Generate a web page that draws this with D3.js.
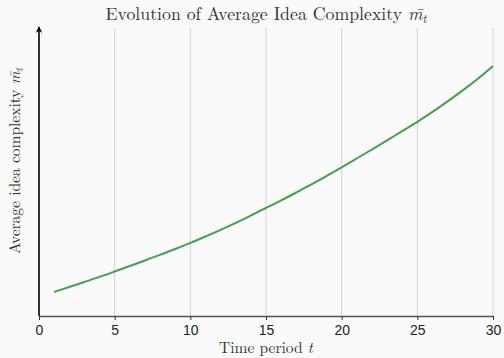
<!DOCTYPE html>
<html>
<head>
<meta charset="utf-8">
<script src="https://cdn.jsdelivr.net/npm/d3@7"></script>
<style>
  html, body { margin: 0; padding: 0; background: #fafafa; }
  svg { display: block; }
</style>
</head>
<body>
<div class="chart"></div>
<script>
// Time periods
const periods = d3.range(1, 31);

// Average idea complexity per period
const complexity = [
  0.24, 0.29, 0.34, 0.39, 0.445, 0.50, 0.555, 0.61, 0.67, 0.73,
  0.795, 0.86, 0.93, 1.005, 1.08, 1.155, 1.235, 1.315, 1.40, 1.485,
  1.575, 1.665, 1.755, 1.85, 1.94, 2.04, 2.145, 2.255, 2.37, 2.50
];

// X tick labels
const xTicks = [0, 5, 10, 15, 20, 25, 30];

const width = 504, height = 358;
const margin = { top: 28, right: 11, bottom: 42, left: 39 };
const xMax = width - margin.left - margin.right;
const yMax = height - margin.top - margin.bottom;

const data = periods.map((t, i) => ({ t: t, m: complexity[i] }));

const svg = d3.select(".chart").append("svg")
  .attr("width", width)
  .attr("height", height);

svg.append("rect")
  .attr("width", width)
  .attr("height", height)
  .attr("fill", "#fafafa");

const g = svg.append("g")
  .attr("transform", "translate(" + margin.left + "," + margin.top + ")");

// X Axis
const x = d3.scaleLinear()
  .domain([0, 30])
  .range([0, xMax]);

// Y Axis (no ticks)
const y = d3.scaleLinear()
  .domain([0, 2.88])
  .range([yMax, 0]);

// Grid
g.append("g")
  .selectAll("line")
  .data(xTicks.slice(1))
  .enter()
  .append("line")
  .attr("x1", d => x(d))
  .attr("x2", d => x(d))
  .attr("y1", 0)
  .attr("y2", yMax)
  .attr("stroke", "#d4d4d4")
  .attr("stroke-width", 1);

const xAxis = g.append("g")
  .attr("transform", "translate(0," + yMax + ")")
  .call(d3.axisBottom(x).tickValues(xTicks).tickSize(4).tickSizeOuter(0));

xAxis.select(".domain").attr("stroke", "#555").attr("stroke-width", 1.5);
xAxis.selectAll(".tick line").attr("stroke", "#333");
xAxis.selectAll(".tick text")
  .attr("font-family", "Liberation Sans, Arial, sans-serif")
  .attr("font-size", 14)
  .attr("fill", "#222")
  .attr("dy", "0.85em");

// Left axis with arrow
svg.append("defs").append("marker")
  .attr("id", "arrow")
  .attr("viewBox", "0 0 10 10")
  .attr("refX", 9)
  .attr("refY", 5)
  .attr("markerWidth", 4)
  .attr("markerHeight", 4)
  .attr("orient", "auto")
  .append("path")
  .attr("d", "M0,0 L10,5 L0,10 L3,5 Z")
  .attr("fill", "#000");

g.append("line")
  .attr("x1", 0)
  .attr("x2", 0)
  .attr("y1", yMax)
  .attr("y2", -1)
  .attr("stroke", "#000")
  .attr("stroke-width", 1.6)
  .attr("marker-end", "url(#arrow)");

// Line
g.append("path")
  .datum(data)
  .attr("fill", "none")
  .attr("stroke", "#43a04f")
  .attr("stroke-width", 2)
  .attr("d", d3.line().curve(d3.curveBasis).x(d => x(d.t)).y(d => y(d.m)));

// Title
const serif = "Latin Modern Roman, CMU Serif, Liberation Serif, Times New Roman, serif";

const title = svg.append("text")
  .attr("x", margin.left + xMax / 2)
  .attr("y", 20)
  .attr("text-anchor", "middle")
  .attr("font-family", serif)
  .attr("font-size", 17.8)
  .attr("fill", "#333");
title.append("tspan").text("Evolution of Average Idea Complexity ");
title.append("tspan").attr("font-style", "italic").text("m̄");
title.append("tspan").attr("font-style", "italic").attr("font-size", 12).attr("dy", 3).text("t");

// X label
const xLabel = svg.append("text")
  .attr("x", margin.left + xMax / 2)
  .attr("y", 353)
  .attr("text-anchor", "middle")
  .attr("font-family", serif)
  .attr("font-size", 15.5)
  .attr("fill", "#333");
xLabel.append("tspan").text("Time period ");
xLabel.append("tspan").attr("font-style", "italic").text("t");

// Y label
const yLabel = svg.append("text")
  .attr("transform", "translate(20," + 161 + ") rotate(-90)")
  .attr("text-anchor", "middle")
  .attr("font-family", serif)
  .attr("font-size", 15.5)
  .attr("fill", "#333");
yLabel.append("tspan").text("Average idea complexity ");
yLabel.append("tspan").attr("font-style", "italic").text("m̄");
yLabel.append("tspan").attr("font-style", "italic").attr("font-size", 11).attr("dy", 3).text("t");
</script>
</body>
</html>
